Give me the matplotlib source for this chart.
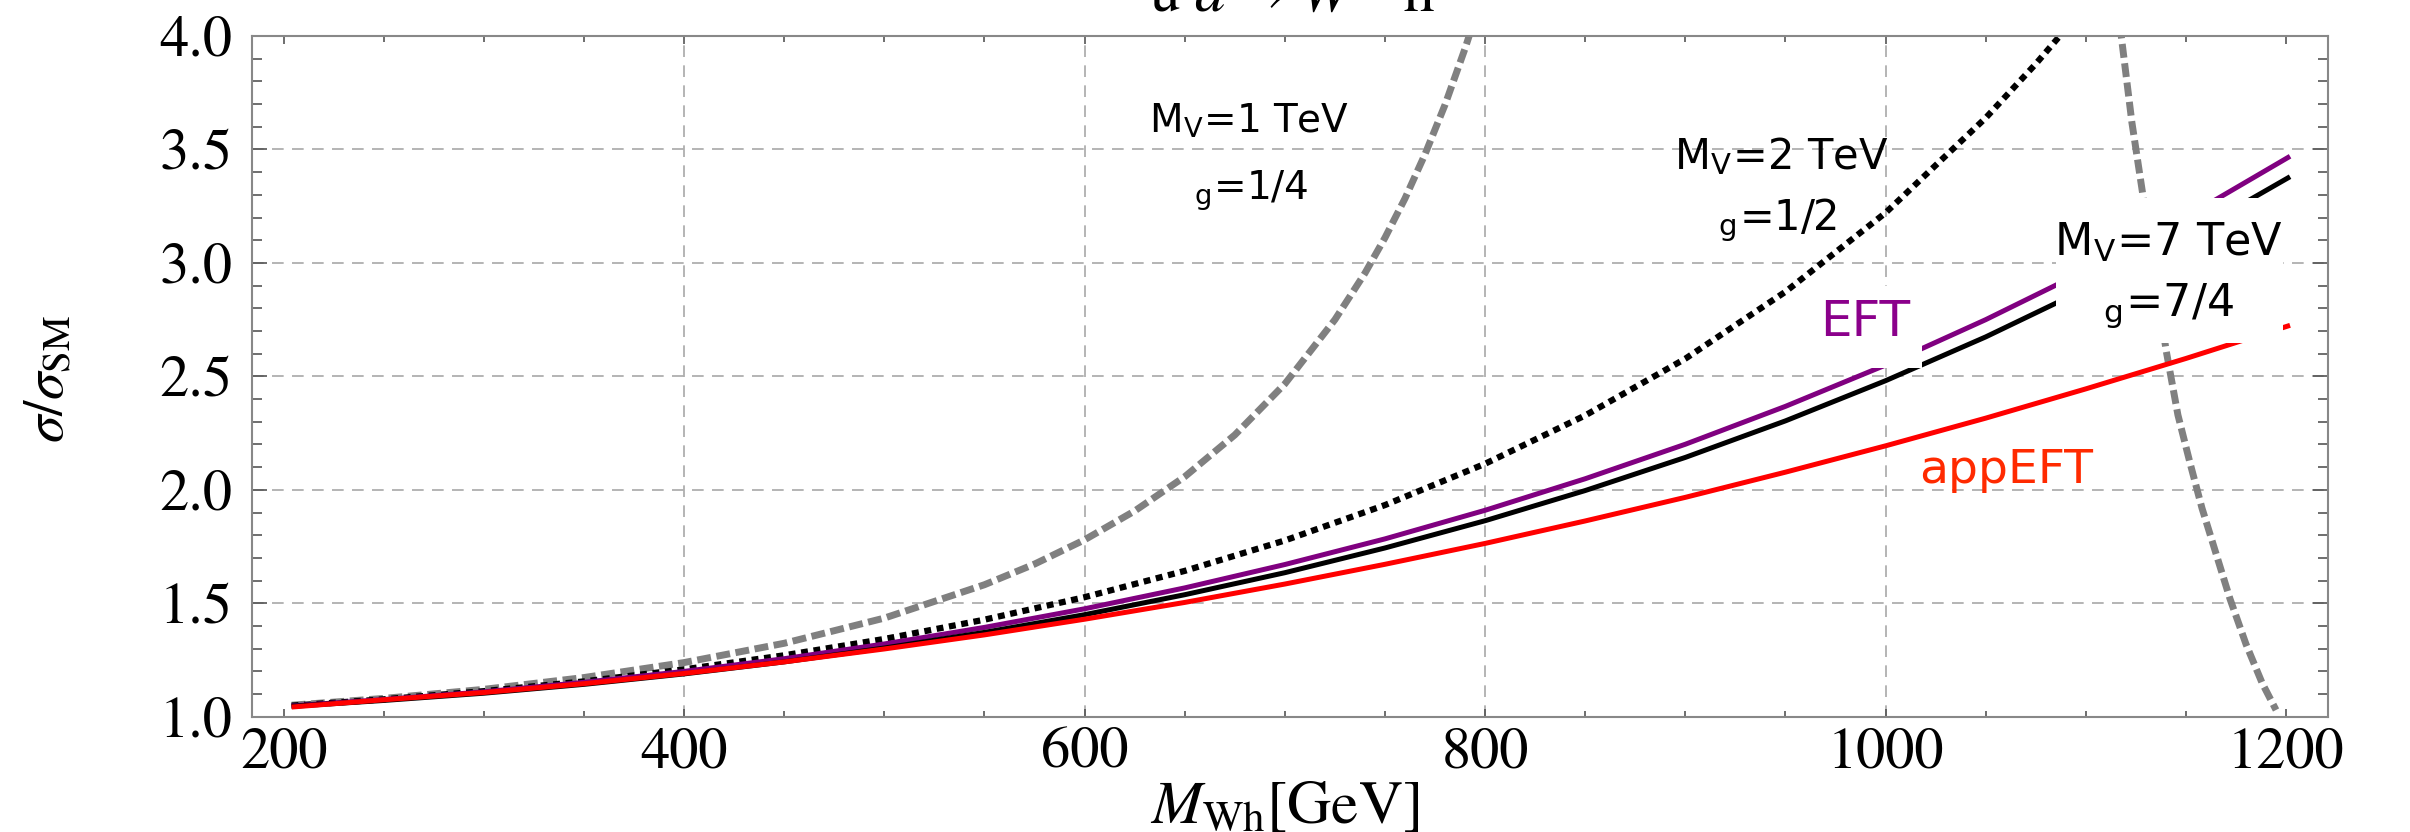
import numpy as np
import matplotlib
matplotlib.use("Agg")
import matplotlib.pyplot as plt
from matplotlib.patches import Rectangle
from matplotlib.ticker import MultipleLocator, FormatStrFormatter

plt.rcParams["mathtext.fontset"] = "stix"
plt.rcParams["mathtext.default"] = "it"

# Invariant mass of the Wh system [GeV]
mwh = [204, 250, 300, 350, 400, 450, 500, 550, 600, 650, 700,
       750, 800, 850, 900, 950, 1000, 1050, 1100, 1150, 1202]

# sigma / sigma_SM
eft = [1.048, 1.076, 1.110, 1.152, 1.200, 1.256, 1.321, 1.394, 1.476, 1.568, 1.671,
       1.784, 1.910, 2.049, 2.201, 2.368, 2.550, 2.750, 2.967, 3.202, 3.470]
full_7tev = [1.046, 1.072, 1.104, 1.143, 1.189, 1.242, 1.303, 1.372, 1.450, 1.538, 1.635,
             1.744, 1.864, 1.997, 2.143, 2.304, 2.481, 2.674, 2.886, 3.117, 3.380]
app_eft = [1.043, 1.075, 1.107, 1.146, 1.191, 1.242, 1.299, 1.361, 1.430, 1.504, 1.585,
           1.672, 1.764, 1.863, 1.967, 2.078, 2.194, 2.316, 2.445, 2.579, 2.725]

mwh_2tev = [204, 250, 300, 350, 400, 450, 500, 550, 600, 650, 700,
            750, 800, 850, 900, 950, 1000, 1050, 1075, 1090]
full_2tev = [1.049, 1.077, 1.113, 1.156, 1.209, 1.271, 1.343, 1.428, 1.527, 1.643, 1.777,
             1.933, 2.115, 2.328, 2.578, 2.873, 3.221, 3.639, 3.877, 4.031]

mwh_1tev_lo = [204, 250, 300, 350, 400, 450, 500, 550, 575, 600, 625, 650, 675, 700,
               725, 740, 750, 760, 770, 780, 790, 795]
full_1tev_lo = [1.051, 1.081, 1.121, 1.173, 1.239, 1.324, 1.435, 1.582, 1.673, 1.780, 1.907,
                2.058, 2.242, 2.467, 2.750, 2.955, 3.111, 3.284, 3.479, 3.697, 3.945, 4.081]
mwh_1tev_hi = [1117, 1123, 1129, 1135, 1140, 1146, 1152, 1158, 1165, 1172, 1180, 1188, 1195]
full_1tev_hi = [4.05, 3.62, 3.27, 2.93, 2.62, 2.33, 2.12, 1.92, 1.72, 1.52, 1.32, 1.15, 1.03]

x_ticks = [200, 400, 600, 800, 1000, 1200]
y_ticks = [1.0, 1.5, 2.0, 2.5, 3.0, 3.5, 4.0]
x_grid = [400, 600, 800, 1000]
y_grid = [1.5, 2.0, 2.5, 3.0, 3.5]

W, H = 2410, 832
fig = plt.figure(figsize=(W / 100, H / 100), dpi=100)
ax = fig.add_axes([252 / W, 1 - 716.8 / H, (2327.7 - 252) / W, (716.8 - 36) / H])
ax.set_xlim(184.2, 1220.8)
ax.set_ylim(1.0, 4.0)

grid_kw = dict(color="#a8a8a8", lw=1.2, dashes=(7, 5), zorder=1)
for gx in x_grid:
    ax.axvline(gx, **grid_kw)
for gy in y_grid:
    ax.axhline(gy, **grid_kw)

grey = "#808080"
ax.plot(mwh_1tev_lo, full_1tev_lo, color=grey, lw=5, dashes=(2.0, 0.8), zorder=3)
ax.plot(mwh_1tev_hi, full_1tev_hi, color=grey, lw=5, dashes=(2.0, 0.8), zorder=3)
ax.plot(mwh_2tev, full_2tev, color="black", lw=4.5, dashes=(1.1, 0.9), zorder=4)
ax.plot(mwh, eft, color="#800080", lw=3.6, zorder=5, solid_capstyle="butt")
ax.plot(mwh, full_7tev, color="black", lw=3.6, zorder=6, solid_capstyle="butt")
ax.plot(mwh, app_eft, color="#ff0000", lw=3.6, zorder=7, solid_capstyle="butt")

# white panels behind the curve labels
ax.add_patch(Rectangle((1085, 2.647), 113.5, 0.638, facecolor="white", edgecolor="none", zorder=8))
ax.add_patch(Rectangle((958, 2.537), 60, 0.36, facecolor="white", edgecolor="none", zorder=8))

lab = dict(family="DejaVu Sans", ha="center", va="center", zorder=9)
ax.text(682, 3.62, r"M$_{\mathregular{V}}$=1 TeV", fontsize=28, **lab)
ax.text(683, 3.32, r"${}_{\mathregular{g}}$=1/4", fontsize=28, **lab)
ax.text(948, 3.465, r"M$_{\mathregular{V}}$=2 TeV", fontsize=30, **lab)
ax.text(946, 3.19, r"${}_{\mathregular{g}}$=1/2", fontsize=30, **lab)
ax.text(1141, 3.09, r"M$_{\mathregular{V}}$=7 TeV", fontsize=32, **lab)
ax.text(1141, 2.81, r"${}_{\mathregular{g}}$=7/4", fontsize=32, **lab)
ax.text(990, 2.74, "EFT", fontsize=36, color="#8b008b", **lab)
ax.text(1060, 2.087, "appEFT", fontsize=34, color="#ff2a00", **lab)

ax.set_xticks(x_ticks)
ax.set_yticks(y_ticks)
ax.xaxis.set_minor_locator(MultipleLocator(50))
ax.yaxis.set_minor_locator(MultipleLocator(0.1))
ax.yaxis.set_major_formatter(FormatStrFormatter("%.1f"))
ax.tick_params(which="both", direction="in", top=True, right=True, color="#555555", width=1.2)
ax.tick_params(axis="x", which="major", length=6, pad=8)
ax.tick_params(axis="x", which="minor", length=4)
ax.tick_params(axis="y", which="major", length=11, pad=14)
ax.tick_params(axis="y", which="minor", length=7)
for lbl in ax.get_xticklabels() + ax.get_yticklabels():
    lbl.set_family("STIXGeneral")
    lbl.set_fontsize(42)
for sp in ax.spines.values():
    sp.set_color("#888888")
    sp.set_linewidth(1.5)
    sp.set_zorder(10)

fig.text(48 / W, 1 - 379 / H, r"$\sigma/\sigma_{\rm SM}$", rotation=90,
         ha="center", va="center", fontsize=40)
fig.text(1285 / W, 1 - 823 / H, r"$M_{\rm Wh}[\rm GeV]$", ha="center",
         va="baseline", fontsize=44)
fig.text(1292 / W, 1 - 12 / H, r"$\mathrm{u}\ \bar{d}\rightarrow W^{+}\ \mathrm{h}$",
         ha="center", va="baseline", fontsize=44)

fig.savefig("out.png", dpi=100, facecolor="white")
